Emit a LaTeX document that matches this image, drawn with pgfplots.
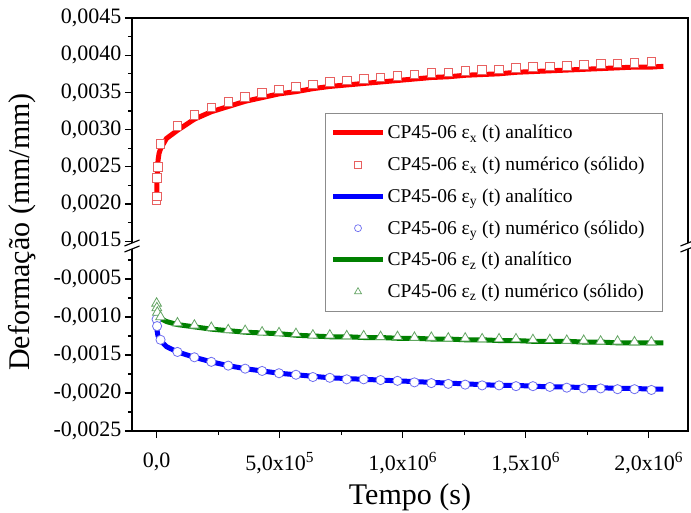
\documentclass[border=0pt]{standalone}
\usepackage{fontspec}
\setmainfont{Liberation Serif}
\usepackage{pgfplots}
\usepackage{pgfplotstable}
\pgfplotsset{compat=1.18}

\definecolor{exline}{RGB}{255,0,0}
\definecolor{exmark}{RGB}{232,96,96}
\definecolor{eyline}{RGB}{0,0,255}
\definecolor{eymark}{RGB}{110,110,240}
\definecolor{ezline}{RGB}{0,128,0}
\definecolor{ezmark}{RGB}{100,165,100}

% numerical (solid) results
\pgfplotstableread{
t v
0 0.00205
500 0.00210
2000 0.00235
5000 0.00250
16000 0.00281
84800 0.00305
153600 0.00320
222400 0.00330
291200 0.00337
360000 0.00344
428800 0.00349
497600 0.00354
566400 0.00357
635200 0.00361
704000 0.00364
772800 0.00366
841600 0.00368
910400 0.00370
979200 0.00372
1048000 0.00374
1116800 0.00376
1185600 0.00377
1254400 0.00379
1323200 0.00380
1392000 0.00381
1460800 0.00383
1529600 0.00384
1598400 0.00385
1667200 0.00386
1736000 0.00387
1804800 0.00388
1873600 0.00389
1942400 0.00390
2011200 0.00391
}\exnum

\pgfplotstableread{
t v
0 -0.00103
2000 -0.00112
16000 -0.00130
84800 -0.00146
153600 -0.00153
222400 -0.00159
291200 -0.00164
360000 -0.00168
428800 -0.00171
497600 -0.00174
566400 -0.00176
635200 -0.00179
704000 -0.00180
772800 -0.00182
841600 -0.00182
910400 -0.00183
979200 -0.00184
1048000 -0.00186
1116800 -0.00187
1185600 -0.00188
1254400 -0.00189
1323200 -0.00190
1392000 -0.00190
1460800 -0.00191
1529600 -0.00191
1598400 -0.00192
1667200 -0.00193
1736000 -0.00194
1804800 -0.00194
1873600 -0.00195
1942400 -0.00195
2011200 -0.00196
}\eynum

\pgfplotstableread{
t v
0 -0.00082
1000 -0.00088
3000 -0.00094
16000 -0.00100
84800 -0.00108
153600 -0.00111
222400 -0.00114
291200 -0.00117
360000 -0.00118
428800 -0.00120
497600 -0.00121
566400 -0.00122
635200 -0.00124
704000 -0.00124
772800 -0.00125
841600 -0.00125
910400 -0.00126
979200 -0.00126
1048000 -0.00127
1116800 -0.00127
1185600 -0.00128
1254400 -0.00128
1323200 -0.00129
1392000 -0.00129
1460800 -0.00129
1529600 -0.00130
1598400 -0.00130
1667200 -0.00131
1736000 -0.00131
1804800 -0.00132
1873600 -0.00132
1942400 -0.00133
2011200 -0.00133
}\eznum

% analytical curves
\pgfplotstableread{
t v
0 0.00200
1000 0.00225
3000 0.00245
6000 0.00259
10000 0.00268
16000 0.00274
40000 0.00288
84800 0.00299
153600 0.00314
222400 0.00324
291200 0.00331
360000 0.00338
428800 0.00343
497600 0.00348
566400 0.00351
635200 0.00355
704000 0.00358
772800 0.00360
841600 0.00362
910400 0.00364
979200 0.00366
1048000 0.00368
1116800 0.00370
1185600 0.00371
1254400 0.00373
1323200 0.00374
1392000 0.00375
1460800 0.00377
1529600 0.00378
1598400 0.00379
1667200 0.00380
1736000 0.00381
1804800 0.00382
1873600 0.00383
1942400 0.00384
2011200 0.00384
2060000 0.00385
}\exana

\pgfplotstableread{
t v
0 -0.00110
2000 -0.00118
5000 -0.00124
10000 -0.00128
16000 -0.00131
40000 -0.00139
84800 -0.00146
153600 -0.00153
222400 -0.00159
291200 -0.00164
360000 -0.00168
428800 -0.00171
497600 -0.00174
566400 -0.00176
635200 -0.00178
704000 -0.00180
772800 -0.00181
841600 -0.00182
910400 -0.00183
979200 -0.00184
1048000 -0.00185
1116800 -0.00186
1185600 -0.00187
1254400 -0.00188
1323200 -0.00189
1392000 -0.00190
1460800 -0.00190
1529600 -0.00191
1598400 -0.00192
1667200 -0.00192
1736000 -0.00193
1804800 -0.00193
1873600 -0.00194
1942400 -0.00194
2011200 -0.00195
2060000 -0.00195
}\eyana

\pgfplotstableread{
t v
0 -0.00095
3000 -0.00098
8000 -0.00100
16000 -0.00102
40000 -0.00106
84800 -0.00110
153600 -0.00113
222400 -0.00116
291200 -0.00118
360000 -0.00120
428800 -0.00121
497600 -0.00122
566400 -0.00124
635200 -0.00125
704000 -0.00126
772800 -0.00126
841600 -0.00127
910400 -0.00127
979200 -0.00128
1048000 -0.00128
1116800 -0.00129
1185600 -0.00129
1254400 -0.00130
1323200 -0.00130
1392000 -0.00131
1460800 -0.00131
1529600 -0.00132
1598400 -0.00132
1667200 -0.00132
1736000 -0.00133
1804800 -0.00133
1873600 -0.00134
1942400 -0.00134
2011200 -0.00134
2060000 -0.00134
}\ezana

\pgfplotsset{
  common/.style={
    scale only axis, width=556pt,
    xmin=-100000, xmax=2160000,
    axis line style={draw=none},
    tick align=outside,
    major tick length=7pt, minor tick length=4pt,
    every tick/.append style={black, line width=1.1pt},
    ytick pos=left, xtick pos=bottom,
    scaled x ticks=false, scaled y ticks=false,
    tick label style={font=\fontsize{22}{26}\selectfont},
    xticklabel style={yshift=-11pt},
  },
  anaL/.style={line width=5pt, no markers},
  legline/.style={legend image code/.code={\draw (0pt,0pt) -- (50pt,0pt);}},
  legmark/.style={legend image code/.code={\draw plot coordinates {(25pt,0pt)};}},
}

\begin{document}
\begin{tikzpicture}
\path[use as bounding box] (-132pt,-267pt) rectangle (559pt,246pt);

% upper part of the broken axis: epsilon_x
\begin{axis}[common, name=top, at={(0pt,0pt)}, anchor=south west,
  height=228pt, ymin=0.001435, ymax=0.0045,
  xtick=\empty,
  ytick={0.0015,0.0020,0.0025,0.0030,0.0035,0.0040,0.0045},
  yticklabels={{0,0015},{0,0020},{0,0025},{0,0030},{0,0035},{0,0040},{0,0045}},
  minor ytick={0.00175,0.00225,0.00275,0.00325,0.00375,0.00425},
  ylabel={Deformação (mm/mm)},
  ylabel style={font=\fontsize{30}{36}\selectfont, at={(axis description cs:-0.198,0.0614)}, anchor=center},
]
\addplot[exline, anaL] table[x=t, y=v] {\exana};
\addplot[exmark, only marks, mark=square*, mark size=4.3pt, mark options={fill=white, line width=0.8pt}] table[x=t, y=v] {\exnum};
\end{axis}

% lower part of the broken axis: epsilon_y and epsilon_z
\begin{axis}[common, name=bot, at={(0pt,0pt)}, anchor=north west,
  height=185pt, ymin=-0.0025, ymax=-0.000066,
  xtick={0,500000,1000000,1500000,2000000},
  xticklabels={{0,0},{5,0x10\textsuperscript{5}},{1,0x10\textsuperscript{6}},{1,5x10\textsuperscript{6}},{2,0x10\textsuperscript{6}}},
  minor xtick={250000,750000,1250000,1750000},
  ytick={-0.0025,-0.0020,-0.0015,-0.0010,-0.0005},
  yticklabels={{-0,0025},{-0,0020},{-0,0015},{-0,0010},{-0,0005}},
  minor ytick={-0.00225,-0.00175,-0.00125,-0.00075,-0.00025},
  xlabel={Tempo (s)},
  xlabel style={font=\fontsize{30}{36}\selectfont, at={(axis description cs:0.5,-0.357)}, anchor=center},
  legend style={at={(axis description cs:0.955,1.719)}, anchor=north east,
    draw=black!45, line width=0.8pt, fill=white,
    font=\fontsize{19.5}{23}\selectfont, cells={anchor=west},
    inner xsep=5pt, inner ysep=10pt, row sep=12.7pt},
]
\addlegendimage{exline, line width=5pt, legline}
\addlegendentry{CP45-06 ε\textsubscript{x} (t) analítico}
\addlegendimage{exmark, only marks, mark=square*, mark size=3.5pt, mark options={fill=white, line width=0.7pt}, legmark}
\addlegendentry{CP45-06 ε\textsubscript{x} (t) numérico (sólido)\hspace*{11pt}}
\addlegendimage{eyline, line width=5pt, legline}
\addlegendentry{CP45-06 ε\textsubscript{y} (t) analítico}
\addlegendimage{eymark, only marks, mark=*, mark size=3.5pt, mark options={fill=white, line width=0.7pt}, legmark}
\addlegendentry{CP45-06 ε\textsubscript{y} (t) numérico (sólido)}
\addlegendimage{ezline, line width=5pt, legline}
\addlegendentry{CP45-06 ε\textsubscript{z} (t) analítico}
\addlegendimage{ezmark, only marks, mark=triangle*, mark size=4pt, mark options={fill=white, line width=0.7pt}, legmark}
\addlegendentry{CP45-06 ε\textsubscript{z} (t) numérico (sólido)}

\addplot[eyline, anaL, forget plot] table[x=t, y=v] {\eyana};
\addplot[ezline, anaL, forget plot] table[x=t, y=v] {\ezana};
\addplot[eymark, only marks, mark=*, mark size=4.6pt, mark options={fill=white, line width=0.8pt}, forget plot] table[x=t, y=v] {\eynum};
\addplot[ezmark, only marks, mark=triangle*, mark size=5.6pt, mark options={fill=white, line width=0.8pt}, forget plot] table[x=t, y=v] {\eznum};
\end{axis}

% frame of the two parts
\draw[black, line width=1.3pt] (top.south west) -- (top.north west) -- (top.north east) -- (top.south east);
\draw[black, line width=1.3pt] (bot.north west) -- (bot.south west) -- (bot.south east) -- (bot.north east);

% axis break symbols
\foreach \bx in {0pt,556pt} {
  \begin{scope}[shift={(\bx,0pt)}]
    \fill[white] (-7.5pt,-6pt) -- (7.5pt,0pt) -- (7.5pt,6pt) -- (-7.5pt,0pt) -- cycle;
    \draw[black, line width=1.2pt] (-7.5pt,0pt) -- (7.5pt,6pt);
    \draw[black, line width=1.2pt] (-7.5pt,-6pt) -- (7.5pt,0pt);
  \end{scope}
}
\end{tikzpicture}
\end{document}
